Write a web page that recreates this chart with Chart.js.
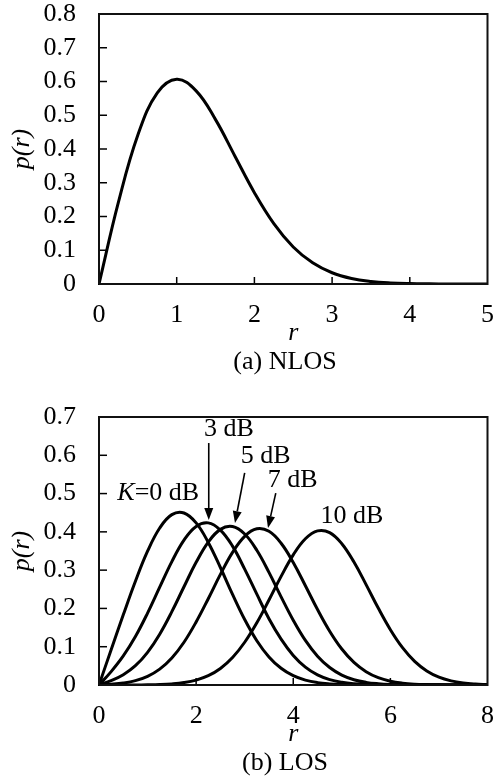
<!DOCTYPE html>
<html><head><meta charset="utf-8">
<script src="https://cdn.jsdelivr.net/npm/chart.js@4.4.1/dist/chart.umd.min.js"></script>
<style>
html,body{margin:0;padding:0;background:#fff;}
#wrapA{position:absolute;left:0;top:0;width:494px;height:376px;}
#wrapB{position:absolute;left:0;top:380px;width:494px;height:398px;}
canvas{display:block;}
</style></head><body>
<div id="wrapA"><canvas id="cA" width="494" height="376"></canvas></div>
<div id="wrapB"><canvas id="cB" width="494" height="398"></canvas></div>
<script>
// ---------- DATA ----------
// (a) NLOS
const rNlos = [0,0.25,0.5,0.75,1,1.25,1.5,1.75,2,2.25,2.5,2.75,3,3.25,3.5,3.75,4,4.25,4.5,4.75,5];
const pNlos = [0,0.2423,0.4412,0.5661,0.6065,0.5723,0.4870,0.3785,0.2707,0.1790,0.1098,0.0627,0.0333,0.0165,0.0077,0.0033,0.0013,0.0005,0.0002,0.0001,0];
// (b) LOS
const rLos = [0,0.25,0.5,0.75,1,1.25,1.5,1.75,2,2.25,2.5,2.75,3,3.25,3.5,3.75,4,4.25,4.5,4.75,5,5.25,5.5,5.75,6,6.25,6.5,6.75,7,7.25,7.5,7.75,8];
const pK0dB  = [0,0.0920,0.1833,0.2711,0.3494,0.4101,0.4450,0.4493,0.4234,0.3724,0.3069,0.2367,0.1710,0.1157,0.0733,0.0436,0.0243,0.0127,0.0062,0.0029,0.0012,0.0005,0.0002,0.0001,0,0,0,0,0,0,0,0,0];
const pK3dB  = [0,0.0350,0.0759,0.1266,0.1878,0.2554,0.3223,0.3785,0.4142,0.4235,0.4046,0.3627,0.3026,0.2372,0.1731,0.1199,0.0773,0.0468,0.0265,0.0141,0.0071,0.0033,0.0015,0.0006,0.0002,0.0001,0,0,0,0,0,0,0];
const pK5dB  = [0,0.0113,0.0268,0.0504,0.0854,0.1328,0.1915,0.2566,0.3204,0.3734,0.4065,0.4138,0.3943,0.3518,0.2941,0.2303,0.1693,0.1165,0.0753,0.0456,0.0259,0.0138,0.0069,0.0033,0.0014,0.0006,0.0002,0.0001,0,0,0,0,0];
const pK7dB  = [0,0.0019,0.0051,0.0113,0.0226,0.0415,0.0706,0.1117,0.1646,0.2254,0.2889,0.3464,0.3884,0.4079,0.4014,0.3702,0.3200,0.2593,0.1971,0.1406,0.0940,0.0590,0.0348,0.0192,0.0100,0.0049,0.0022,0.0010,0.0004,0.0002,0.0001,0,0];
const pK10dB = [0,0,0.0001,0.0002,0.0005,0.0012,0.0029,0.0063,0.0128,0.0243,0.0432,0.0718,0.1117,0.1626,0.2219,0.2837,0.3399,0.3820,0.4026,0.3980,0.3691,0.3211,0.2622,0.2009,0.1445,0.0976,0.0618,0.0368,0.0205,0.0108,0.0053,0.0025,0.0011];
const losNames = ['K=0 dB','3 dB','5 dB','7 dB','10 dB'];
// tick values
const nlosXTicks = [0,1,2,3,4,5];
const nlosYTicks = [0,0.1,0.2,0.3,0.4,0.5,0.6,0.7,0.8];
const losXTicks = [0,2,4,6,8];
const losYTicks = [0,0.1,0.2,0.3,0.4,0.5,0.6,0.7];

// annotation layout (data coordinates)
const losNotes = [
  {parts:[['K',true],['=0 dB',false]], x:1.22, y:0.501},
  {parts:[['3 dB',false]], x:2.675, y:0.668, arrow:[2.26,0.632,2.26,0.431]},
  {parts:[['5 dB',false]], x:3.43, y:0.598, arrow:[3.00,0.554,2.80,0.423]},
  {parts:[['7 dB',false]], x:3.99, y:0.535, arrow:[3.64,0.501,3.48,0.410]},
  {parts:[['10 dB',false]], x:5.21, y:0.441}
];

// ---------- STYLE ----------
const FAM = "'Liberation Serif','Times New Roman',serif";
const FS = 26;
Chart.defaults.color = '#000';
Chart.defaults.font.family = FAM;

const framePlugin = {
  id:'frame',
  afterDatasetsDraw(chart){
    const {ctx, chartArea:{left,right,top,bottom}, scales:{x,y}} = chart;
    ctx.save();
    ctx.strokeStyle = '#000';
    ctx.lineWidth = 1.5;
    y.ticks.forEach(t=>{
      if (t.value>y.min+1e-9 && t.value<y.max-1e-9){
        const py = y.getPixelForValue(t.value);
        ctx.beginPath(); ctx.moveTo(left,py); ctx.lineTo(left+8,py); ctx.stroke();
      }
    });
    x.ticks.forEach(t=>{
      if (t.value>x.min+1e-9 && t.value<x.max-1e-9){
        const px = x.getPixelForValue(t.value);
        ctx.beginPath(); ctx.moveTo(px,bottom); ctx.lineTo(px,bottom-7); ctx.stroke();
      }
    });
    ctx.lineWidth = 2;
    ctx.strokeStyle = '#111';
    ctx.beginPath();
    ctx.moveTo(left,bottom); ctx.lineTo(left,top); ctx.lineTo(right,top); ctx.lineTo(right,bottom); ctx.lineTo(left,bottom);
    ctx.stroke();
    ctx.restore();
  }
};

const notesPlugin = {
  id:'notes',
  afterDatasetsDraw(chart, args, opts){
    const notes = opts.items || [];
    const {ctx, scales:{x,y}} = chart;
    ctx.save();
    ctx.fillStyle = '#000'; ctx.strokeStyle = '#000';
    notes.forEach(n=>{
      let w = 0;
      const fonts = n.parts.map(p=>(p[1]?'italic ':'')+FS+'px '+FAM);
      n.parts.forEach((p,i)=>{ ctx.font = fonts[i]; w += ctx.measureText(p[0]).width; });
      let cx = x.getPixelForValue(n.x) - w/2;
      const cy = y.getPixelForValue(n.y);
      ctx.textBaseline = 'middle'; ctx.textAlign = 'left';
      n.parts.forEach((p,i)=>{ ctx.font = fonts[i]; ctx.fillText(p[0], cx, cy); cx += ctx.measureText(p[0]).width; });
      if (n.arrow){
        const [ax1,ay1,ax2,ay2] = n.arrow;
        const x1 = x.getPixelForValue(ax1), y1 = y.getPixelForValue(ay1);
        const x2 = x.getPixelForValue(ax2), y2 = y.getPixelForValue(ay2);
        const ang = Math.atan2(y2-y1, x2-x1);
        const L = 12, H = 4.5;
        const bx = x2 - L*Math.cos(ang), by = y2 - L*Math.sin(ang);
        ctx.lineWidth = 1.6;
        ctx.beginPath(); ctx.moveTo(x1,y1); ctx.lineTo(bx,by); ctx.stroke();
        ctx.beginPath();
        ctx.moveTo(x2,y2);
        ctx.lineTo(bx + H*Math.sin(ang), by - H*Math.cos(ang));
        ctx.lineTo(bx - H*Math.sin(ang), by + H*Math.cos(ang));
        ctx.closePath(); ctx.fill();
      }
    });
    ctx.restore();
  }
};

function lineDs(rs, ps){
  return {
    data: rs.map((r,i)=>({x:r, y:ps[i]})),
    borderColor:'#000', borderWidth:3, pointRadius:0, fill:false,
    tension:0.4
  };
}

// negative right padding only widens the full-size caption box (plot area keeps its own right gap)
function makeOptions(xMax, yMax, xTicks, yTicks, caption, padTop, padBottom){
  return {
    responsive:false, animation:false, devicePixelRatio:1,
    layout:{padding:{top:padTop, right:-76, left:0, bottom:padBottom}},
    plugins:{
      legend:{display:false}, tooltip:{enabled:false},
      title:{display:true, text:caption, position:'bottom', fullSize:true,
        font:{family:FAM, size:FS, weight:'normal', lineHeight:1.0}, padding:{top:0,bottom:0}, color:'#000'}
    },
    scales:{
      x:{
        type:'linear', min:0, max:xMax,
        afterBuildTicks:s=>{ s.ticks = xTicks.map(v=>({value:v})); },
        afterFit:s=>{ s.height = 65; },
        ticks:{font:{family:FAM,size:FS,lineHeight:1.0}, padding:0, color:'#000', maxRotation:0, autoSkip:false,
          callback:v=>String(v)},
        grid:{display:false, drawTicks:true, tickLength:18.5, tickColor:'rgba(0,0,0,0)'},
        border:{display:true, color:'#000', width:2},
        title:{display:true, text:'r', font:{family:FAM,size:FS,style:'italic',lineHeight:1.2}, padding:{top:0,bottom:0}, color:'#000'}
      },
      y:{
        type:'linear', min:0, max:yMax,
        afterBuildTicks:s=>{ s.ticks = yTicks.map(v=>({value:v})); },
        afterFit:s=>{ s.width = 99; },
        ticks:{font:{family:FAM,size:FS,lineHeight:1.0}, padding:0, color:'#000', autoSkip:false,
          callback:v=> v===0 ? '0' : Number(v).toFixed(1)},
        grid:{display:false, drawTicks:true, tickLength:23, tickColor:'rgba(0,0,0,0)'},
        border:{display:true, color:'#000', width:2},
        title:{display:true, text:'p(r)', font:{family:FAM,size:FS,style:'italic',lineHeight:1.2}, padding:{top:7,bottom:0}, color:'#000'}
      }
    }
  };
}

const optA = makeOptions(5, 0.8, nlosXTicks, nlosYTicks, '(a) NLOS', 14, 1);
new Chart(document.getElementById('cA'), {
  type:'line',
  data:{datasets:[Object.assign(lineDs(rNlos,pNlos),{label:'NLOS'})]},
  options:optA,
  plugins:[framePlugin]
});

const optB = makeOptions(8, 0.7, losXTicks, losYTicks, '(b) LOS', 37, 2);
optB.plugins.notes = {items: losNotes};
const losSeries = [pK0dB,pK3dB,pK5dB,pK7dB,pK10dB];
new Chart(document.getElementById('cB'), {
  type:'line',
  data:{datasets: losSeries.map((p,i)=>Object.assign(lineDs(rLos,p),{label:losNames[i]}))},
  options:optB,
  plugins:[framePlugin, notesPlugin]
});
</script>
</body></html>
